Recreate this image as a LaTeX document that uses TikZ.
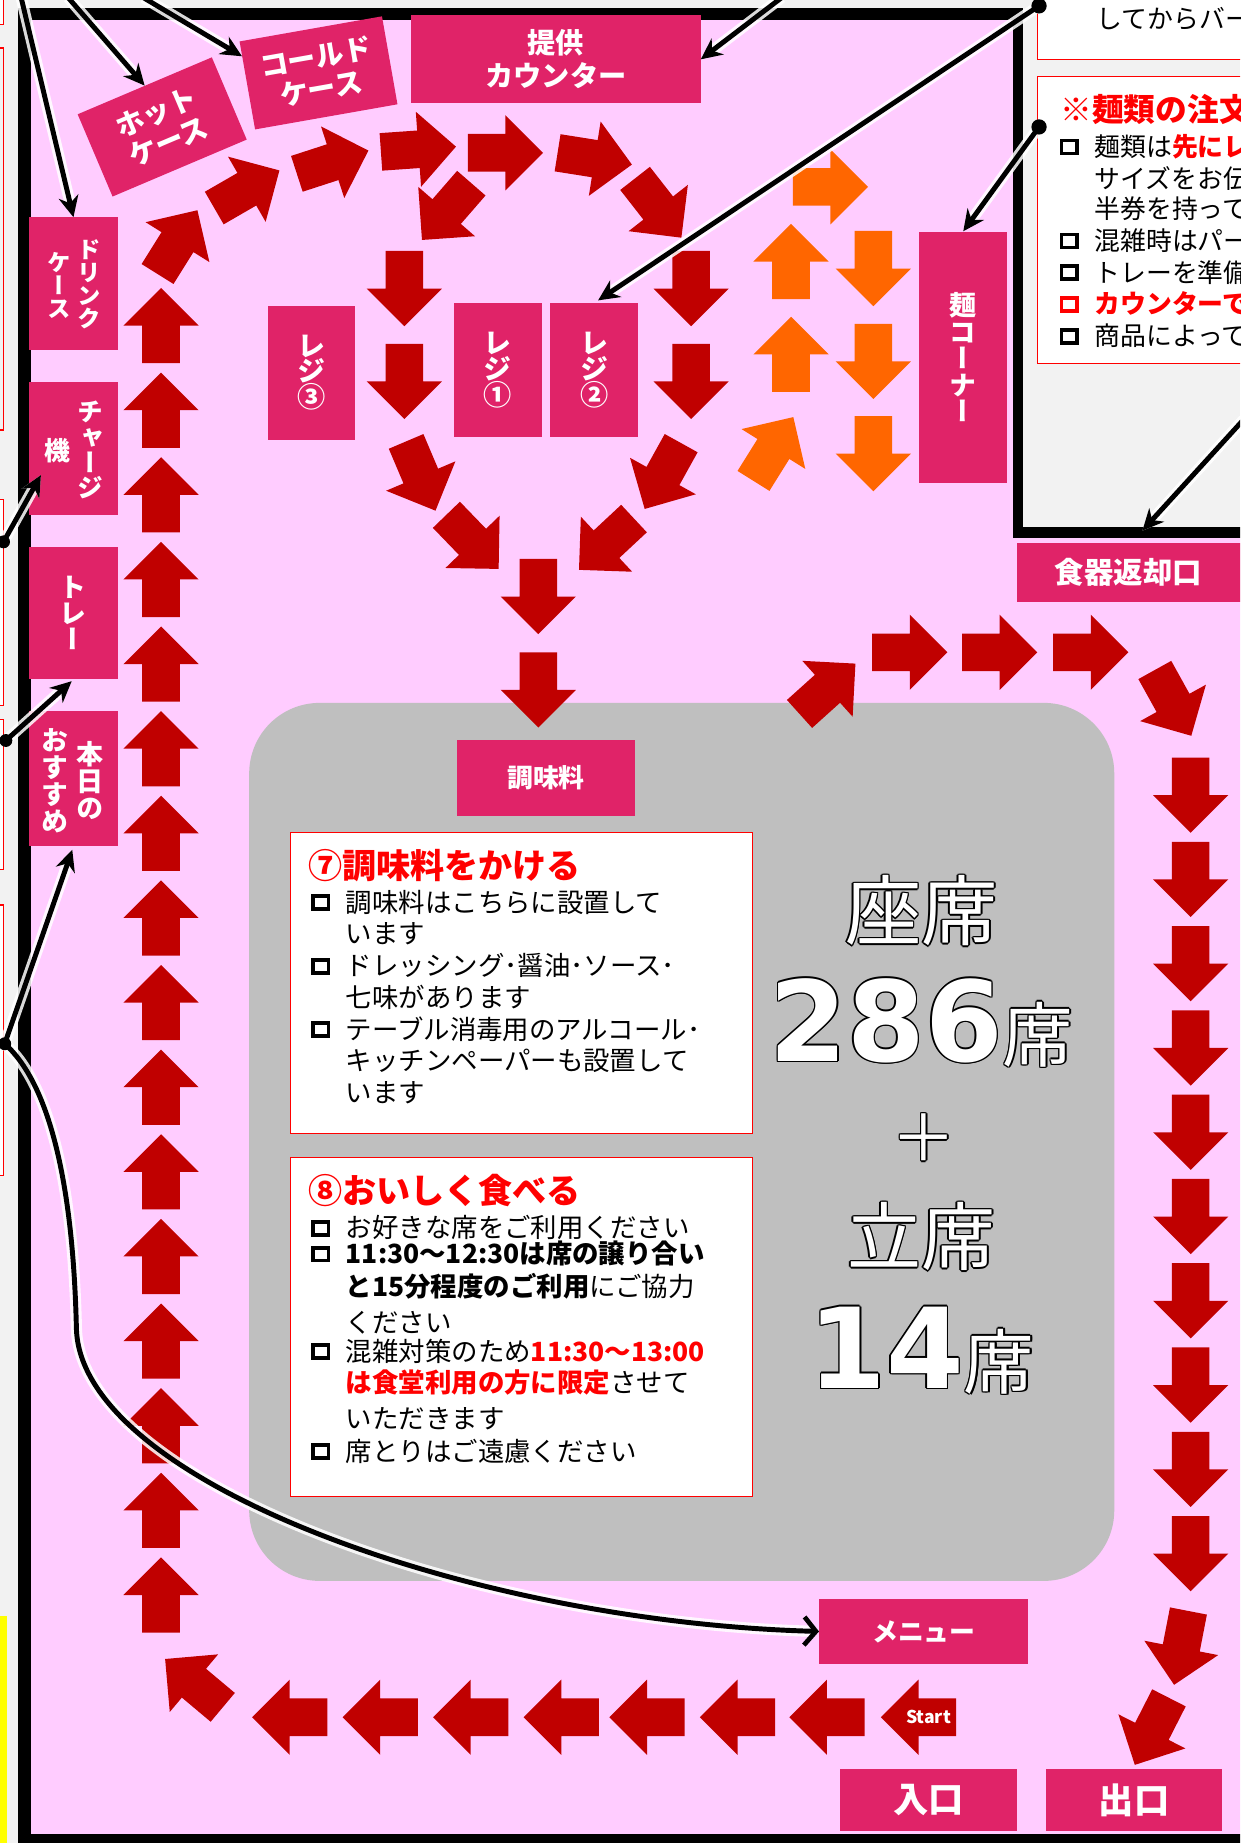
\documentclass[tikz,border=0pt]{standalone}
\usepackage{fontspec}
\usetikzlibrary{arrows.meta,calc}
\newfontfamily\jp{Noto Sans CJK JP}
\newfontfamily\jpv{Noto Sans CJK JP}[RawFeature=+vert]
\newfontfamily\dvs{DejaVu Sans}
\definecolor{bgout}{RGB}{242,242,242}
\definecolor{room}{RGB}{255,204,255}
\definecolor{mag}{RGB}{224,35,104}
\definecolor{arr}{RGB}{192,0,0}
\definecolor{org}{RGB}{255,102,0}
\definecolor{seat}{RGB}{191,191,191}
\definecolor{rd}{RGB}{255,0,0}
\definecolor{ylw}{RGB}{255,255,0}
\newcommand\barr[4]{\fill[#4, shift={(#1,#2)}, rotate=#3] (32pt,0pt) -- (0pt,32pt) -- (0pt,16pt) -- (-32pt,16pt) -- (-32pt,-16pt) -- (0pt,-16pt) -- (0pt,-32pt) -- cycle;}
\newcommand\sq[3]{\draw[#3, line width=3.2] (#1,#2-5.5) rectangle (#1+13,#2+5.5);}
\newcommand\otext[5]{%
  \foreach \dx/\dy [count=\i] in {1.3/0,-1.3/0,0/1.3,0/-1.3,0.9/0.9,-0.9/0.9,0.9/-0.9,-0.9/-0.9}{%
    \node[anchor=#4, inner sep=0, text=black, xshift=\dx pt, yshift=\dy pt] (#1o\i) at (#2,#3) {#5};}
  \node[anchor=#4, inner sep=0, text=white] (#1) at (#2,#3) {#5};}
\tikzset{
  mbox/.style={fill=mag, inner sep=0, text=white, align=center},
  vt/.style={inner sep=0, text=white, align=center},
  wbox/.style={fill=white, draw=rd, line width=0.9},
  jl/.style={inner sep=0, anchor=base west, font=\jp\fontsize{22.5}{27}\selectfont},
  jr/.style={inner sep=0, anchor=base west, font=\jp\fontsize{22}{26}\selectfont},
  callout/.style={line width=4.2, -{Stealth[length=18pt,width=17pt]}, preaction={draw=white, line width=9.5, opacity=0.85}},
  callbarb/.style={line width=4.2, -{Straight Barb[length=10pt,width=24pt,line width=4pt]}, preaction={draw=white, line width=9.5, opacity=0.85}},
}
\begin{document}
\begin{tikzpicture}[x=1pt,y=-1pt]
\useasboundingbox (0,0) rectangle (1055,1568);
\clip (0,0) rectangle (1055,1568);
\fill[bgout] (0,0) rectangle (1055,1568);
% outside left edge boxes
\draw[rd, line width=1.2, fill=white] (-20,-10) rectangle (3,21);
\draw[rd, line width=1.5, fill=bgout] (-20,41) rectangle (3,366);
\draw[rd, line width=1, fill=white] (-20,425) rectangle (3,600);
\draw[rd, line width=1, fill=white] (-20,612) rectangle (3,740);
\draw[rd, line width=1, fill=white] (-20,770) rectangle (3,1000);
\fill[ylw] (-5,1375) rectangle (6,1575);
% room
\fill[room] (26,17) rectangle (862,1560);
\fill[room] (862,458) rectangle (1060,1560);
\fill[black] (15.5,7) rectangle (26,1575);
\fill[black] (15.5,7) rectangle (870,17);
\fill[black] (862,7) rectangle (870,458);
\fill[black] (862,448) rectangle (1060,458);
\fill[black] (15.5,1560) rectangle (1060,1575);
% top-right notes
\draw[wbox] (883,-10) rectangle (1065,51);
\draw[wbox] (883,65) rectangle (1065,309);
\node[jr] (n0) at (933,24) {してからバー};
\node[jr, font=\jp\bfseries\fontsize{27}{30}\selectfont, text=rd] (n1) at (902,103) {※麺類の注文};
\sq{903}{125}{black}\node[jr] (n2) at (931,133) {麺類は{\bfseries\color{rd}先にレ}};
\node[jr] (n3) at (931,160) {サイズをお伝};
\node[jr] (n4) at (931,186) {半券を持って};
\sq{903}{205}{black}\node[jr] (n5) at (931,213) {混雑時はパー};
\sq{903}{232}{black}\node[jr] (n6) at (931,240) {トレーを準備};
\sq{903}{259}{rd}\node[jr, text=rd, font=\jp\bfseries\fontsize{22}{26}\selectfont] (n7) at (931,267) {カウンターで};
\sq{903}{286}{black}\node[jr] (n8) at (931,294) {商品によって};
% seating area
\fill[seat, rounded corners=60] (212,598) rectangle (948,1345);
\draw[wbox] (247,708) rectangle (640,964);
\draw[wbox] (247,985) rectangle (640,1273);
% box 7
\node[jl, font=\jp\bfseries\fontsize{29}{32}\selectfont, text=rd] (b7t) at (262,747) {⑦調味料をかける};
\sq{266.5}{768}{black}\node[jl] (b71) at (294,776) {調味料はこちらに設置して};
\node[jl] (b72) at (294,803) {います};
\sq{266.5}{822}{black}\node[jl] (b73) at (294,830) {ドレッシング･醤油･ソース･};
\node[jl] (b74) at (294,857) {七味があります};
\sq{266.5}{876}{black}\node[jl] (b75) at (294,884) {テーブル消毒用のアルコール･};
\node[jl] (b76) at (294,911) {キッチンペーパーも設置して};
\node[jl] (b77) at (294,938) {います};
% box 8
\node[jl, font=\jp\bfseries\fontsize{29}{32}\selectfont, text=rd] (b8t) at (262,1024) {⑧おいしく食べる};
\sq{266.5}{1045}{black}\node[jl] (b81) at (294,1053) {お好きな席をご利用ください};
\sq{266.5}{1067}{black}\node[jl] (b82) at (294,1075) {\bfseries 11:30～12:30は席の譲り合い};
\node[jl] (b83) at (294,1103) {{\bfseries と15分程度のご利用}にご協力};
\node[jl] (b84) at (294,1134) {ください};
\sq{266.5}{1150}{black}\node[jl] (b85) at (294,1158) {混雑対策のため{\bfseries\color{rd}11:30～13:00}};
\node[jl] (b86) at (294,1185) {{\bfseries\color{rd}は食堂利用の方に限定}させて};
\node[jl] (b87) at (294,1215) {いただきます};
\sq{266.5}{1235}{black}\node[jl] (b88) at (294,1243) {席とりはご遠慮ください};
% seat numbers
\otext{za}{784}{775}{center}{\jp\fontsize{65}{65}\selectfont 座席}
\otext{n286}{784}{903}{base}{{\dvs\bfseries\fontsize{95}{95}\selectfont 286}{\jp\fontsize{60}{60}\selectfont 席}}
\otext{plus}{786}{968}{center}{\jp\fontsize{55}{55}\selectfont ＋}
\otext{tachi}{784}{1052}{center}{\jp\fontsize{63}{63}\selectfont 立席}
\otext{n14}{784}{1181}{base}{{\dvs\bfseries\fontsize{95}{95}\selectfont 14}{\jp\fontsize{60}{60}\selectfont 席}}
% magenta boxes
\node[mbox, minimum width=75, minimum height=113] (drink) at (62.5,241.5) {};
\node[vt, font=\jpv\bfseries\fontsize{20}{19.5}\selectfont] (drinkA) at (76,242) {ド\\リ\\ン\\ク};
\node[vt, font=\jpv\bfseries\fontsize{20}{19.5}\selectfont] (drinkB) at (50,243) {ケ\\ー\\ス};
\node[mbox, minimum width=75, minimum height=113] (charge) at (62.5,381.5) {};
\node[vt, font=\jpv\bfseries\fontsize{22}{21.5}\selectfont] (chargeA) at (77,383) {チ\\ャ\\ー\\ジ};
\node[vt, font=\jpv\bfseries\fontsize{22}{21.5}\selectfont] (chargeB) at (49,383) {機};
\node[mbox, minimum width=75, minimum height=113, font=\jpv\bfseries\fontsize{23}{22}\selectfont] (tray) at (62.5,521.5) {ト\\レ\\ー};
\node[mbox, minimum width=75, minimum height=115] (osusume) at (62.5,662.5) {};
\node[vt, font=\jpv\bfseries\fontsize{23}{22.7}\selectfont] (osuA) at (77,664) {本\\日\\の};
\node[vt, font=\jpv\bfseries\fontsize{23}{23}\selectfont] (osuB) at (47,664) {お\\す\\す\\め};
\node[mbox, minimum width=124, minimum height=76, rotate=23, font=\jp\bfseries\fontsize{24}{27}\selectfont] (hot) at (138,108) {ホット\\ケース};
\node[mbox, minimum width=123, minimum height=76, rotate=10, font=\jp\bfseries\fontsize{24}{27}\selectfont] (cold) at (271,62) {コールド\\ケース};
\node[mbox, minimum width=246, minimum height=75, font=\jp\bfseries\fontsize{24}{28}\selectfont] (counter) at (473,50.5) {提供\\カウンター};
\node[mbox, minimum width=74, minimum height=114, font=\jpv\bfseries\fontsize{24}{22}\selectfont] (reg3) at (265,317) {レ\\ジ\\③};
\node[mbox, minimum width=75, minimum height=114, font=\jpv\bfseries\fontsize{24}{22}\selectfont] (reg1) at (423.5,315) {レ\\ジ\\①};
\node[mbox, minimum width=75, minimum height=114, font=\jpv\bfseries\fontsize{24}{22}\selectfont] (reg2) at (505.5,315) {レ\\ジ\\②};
\node[mbox, minimum width=75, minimum height=214, font=\jpv\bfseries\fontsize{23}{22.6}\selectfont] (noodle) at (819.5,304) {麺\\コ\\ー\\ナ\\ー};
\node[mbox, minimum width=195, minimum height=50, font=\jp\bfseries\fontsize{25}{25}\selectfont] (ret) at (962.5,487) {\hspace*{-5pt}食器返却口};
\node[mbox, minimum width=151, minimum height=64, font=\jp\bfseries\fontsize{22}{22}\selectfont] (spice) at (464.5,662) {調味料};
\node[mbox, minimum width=178, minimum height=56, font=\jp\bfseries\fontsize{22}{22}\selectfont] (menu) at (786,1388) {メニュー};
\node[mbox, minimum width=150, minimum height=53, font=\jp\bfseries\fontsize{30}{30}\selectfont] (entr) at (790,1531.5) {入口};
\node[mbox, minimum width=150, minimum height=53, font=\jp\bfseries\fontsize{30}{30}\selectfont] (exit) at (965,1531.5) {出口};
% red flow arrows
\foreach \k in {0,...,15} {\barr{137}{277+72*\k}{90}{arr}}
\barr{151}{206}{58}{arr}
\barr{210}{161}{30}{arr}
\barr{283}{138}{18}{arr}
\barr{356}{127}{4}{arr}
\barr{430}{130}{0}{arr}
\barr{506}{135}{-9}{arr}
\barr{560}{177}{-52}{arr}
\barr{380}{180}{-131}{arr}
\barr{344}{245.5}{-90}{arr}
\barr{344}{324.5}{-90}{arr}
\barr{588}{245.5}{-90}{arr}
\barr{588}{324.5}{-90}{arr}
\barr{358}{405}{-67}{arr}
\barr{402}{461}{-46}{arr}
\barr{564}{405}{-119}{arr}
\barr{516}{463}{-137}{arr}
\barr{458}{507.5}{-90}{arr}
\barr{458}{587}{-90}{arr}
\barr{704}{586}{42}{arr}
\barr{774}{555}{0}{arr}
\barr{850.5}{555}{0}{arr}
\barr{928}{555}{0}{arr}
\barr{998}{598}{-61}{arr}
\foreach \k in {0,...,9} {\barr{1013}{676.5+71.7*\k}{-90}{arr}}
\barr{1005}{1402}{-101}{arr}
\barr{980}{1473}{-117}{arr}
\foreach \x in {246.5,323.5,400.5,477.5,550.5,627.5,703.5,781.5} {\barr{\x}{1461}{180}{arr}}
\barr{165}{1432}{140}{arr}
\node[inner sep=0, text=white, font=\jp\bfseries\fontsize{15}{15}\selectfont] (start) at (790,1461) {Start};
% orange arrows
\barr{706.5}{159}{0}{org}
\barr{673}{222.5}{90}{org}
\barr{673}{301.5}{90}{org}
\barr{658}{382}{58}{org}
\barr{743}{228.5}{-90}{org}
\barr{743}{307.5}{-90}{org}
\barr{743}{386}{-90}{org}
% callouts
\coordinate (s1) at (18,-2);
\coordinate (s2) at (58,-2);
\coordinate (s3) at (122,-2);
\coordinate (s4) at (665,-2);
\coordinate (d5) at (884,5);
\coordinate (d6) at (884,108);
\coordinate (s7) at (1058,357);
\coordinate (d8) at (3,461);
\coordinate (d9) at (5,630);
\coordinate (d10) at (4,888);
\draw[callout] (s1) -- (drink.north);
\draw[callout] (s2) -- (hot.north);
\draw[callout] (s3) -- ($(cold.north west)!0.17!(cold.south west)$);
\draw[callout] (s4) -- (counter.east);
\draw[callout, shorten >=4pt] (d5) -- (reg2.north);
\draw[callout] (d6) -- (noodle.north);
\draw[callout, shorten >=14pt] (s7) -- (ret.north);
\draw[callout] (d8) -- ($(charge.south west)+(10,-34)$);
\draw[callout, shorten >=2pt] (d9) -- (tray.south);
\draw[callout, shorten >=3pt] (d10) -- (osusume.south);
\draw[callbarb] (d10) .. controls (40,920) and (62,1000) .. (65,1130) .. controls (68,1260) and (400,1380) .. (menu.west);
\fill (d5) circle (6.5pt);
\fill (d6) circle (6.5pt);
\fill (d8) circle (5.5pt);
\fill (d9) circle (5.5pt);
\fill (d10) circle (5.5pt);
\end{tikzpicture}
\end{document}
